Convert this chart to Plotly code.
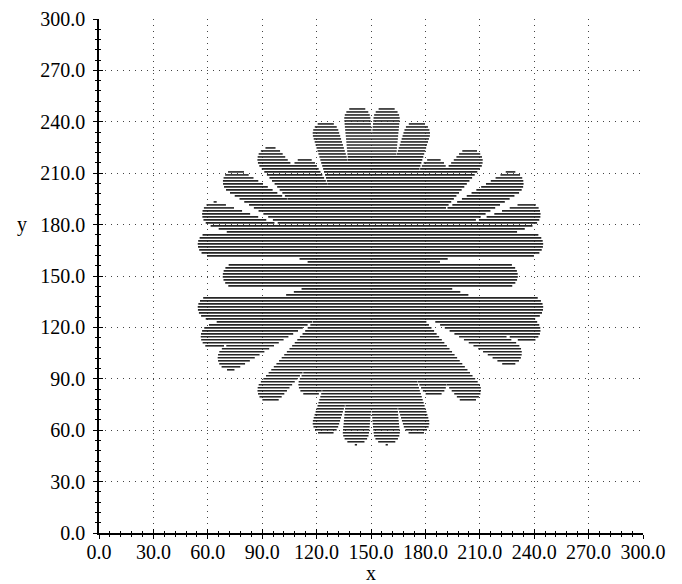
import numpy as np
import plotly.graph_objects as go

# ---- data: petals (bars): the two rounded tips of each bar and its width
bar_x1 = [54.4, 54.4, 68.2, 141.8, 159.3, 123.0, 177.0, 113.6, 188.0, 90.0, 208.0, 66.6, 69.5, 56.6, 57.3]
bar_y1 = [168.5, 131.5, 150.3, 249.0, 249.0, 57.4, 57.4, 80.6, 80.6, 77.8, 77.8, 98.2, 209.0, 112.0, 188.7]
bar_x2 = [245.0, 245.0, 231.0, 159.3, 141.0, 177.4, 123.0, 188.0, 110.0, 209.0, 90.0, 233.0, 232.0, 243.0, 243.0]
bar_y2 = [168.5, 131.5, 150.3, 51.5, 51.5, 240.0, 240.0, 218.0, 218.0, 222.6, 223.7, 208.0, 101.0, 188.7, 115.8]
bar_w = [14.0, 14.0, 15.0, 14.5, 14.5, 14.5, 14.5, 14.0, 14.0, 14.5, 14.5, 14.5, 14.5, 14.5, 14.5]

x_ticks = [0, 30, 60, 90, 120, 150, 180, 210, 240, 270, 300]
y_ticks = [0, 30, 60, 90, 120, 150, 180, 210, 240, 270, 300]

hatch_step = 1.75  # distance between hatch lines (data units)

# ---- build horizontal hatch segments covering the union of bars
xs = np.arange(40.0, 260.0, 0.05)
ys = np.arange(48.0, 252.0, hatch_step)
segx, segy = [], []
for yv in ys:
    mask = np.zeros_like(xs, dtype=bool)
    for x1, y1, x2, y2, w in zip(bar_x1, bar_y1, bar_x2, bar_y2, bar_w):
        hw = w / 2.0
        d = np.array([x2 - x1, y2 - y1])
        L = np.hypot(*d)
        u = d / L
        ax, ay = x1 + u[0] * hw, y1 + u[1] * hw
        bx, by = x2 - u[0] * hw, y2 - u[1] * hw
        vx, vy = bx - ax, by - ay
        vv = vx * vx + vy * vy
        t = ((xs - ax) * vx + (yv - ay) * vy) / vv
        t = np.clip(t, 0, 1)
        px = ax + t * vx
        py = ay + t * vy
        dist = np.hypot(xs - px, yv - py)
        mask |= dist <= hw
    if not mask.any():
        continue
    m = np.concatenate([[False], mask, [False]]).astype(int)
    dm = np.diff(m)
    starts = np.where(dm == 1)[0]
    ends = np.where(dm == -1)[0] - 1
    for s, e in zip(starts, ends):
        segx += [xs[s], xs[e], None]
        segy += [yv, yv, None]

fig = go.Figure()
fig.add_trace(go.Scatter(x=segx, y=segy, mode="lines",
                         line=dict(color="#262626", width=1.6),
                         hoverinfo="skip", showlegend=False))
# helper trace for the second (inside-tick) axes
fig.add_trace(go.Scatter(x=[0, 300], y=[0, 300], xaxis="x2", yaxis="y2",
                         mode="markers", marker=dict(opacity=0),
                         hoverinfo="skip", showlegend=False))

font = dict(family="Liberation Serif, Times New Roman, serif", size=20, color="black")
grid = dict(showgrid=True, gridcolor="#444", gridwidth=1, griddash="1px,5px")

fig.update_layout(
    width=674, height=576,
    margin=dict(l=91, r=39, t=11, b=51, autoexpand=False),
    paper_bgcolor="white", plot_bgcolor="white",
    font=font, showlegend=False,
    xaxis=dict(range=[0, 300], tickmode="array", tickvals=x_ticks,
               ticktext=[f"{v:.1f}" for v in x_ticks],
               ticks="outside", ticklen=4, tickwidth=1, tickcolor="black",
               showline=True, linecolor="black", linewidth=1.5, zeroline=False,
               minor=dict(dtick=6, tick0=0, ticks="outside", ticklen=2, tickwidth=1,
                          tickcolor="black", showgrid=False),
               tickfont=font, ticklabelstandoff=-4, automargin=False, **grid),
    yaxis=dict(range=[0, 300], tickmode="array", tickvals=y_ticks,
               ticktext=[f"{v:.1f}" for v in y_ticks],
               ticks="outside", ticklen=4, tickwidth=1, tickcolor="black",
               showline=True, linecolor="black", linewidth=1.5, zeroline=False,
               minor=dict(dtick=6, tick0=0, ticks="outside", ticklen=2, tickwidth=1,
                          tickcolor="black", showgrid=False),
               tickfont=font, ticklabelstandoff=4, automargin=False, **grid),
    xaxis2=dict(range=[0, 300], overlaying="x", anchor="y2", side="bottom",
                tickmode="array", tickvals=x_ticks, ticks="inside", ticklen=4,
                tickwidth=1, tickcolor="black", showticklabels=False, showgrid=False,
                showline=False, zeroline=False,
                minor=dict(dtick=6, tick0=0, ticks="inside", ticklen=2, tickwidth=1,
                           tickcolor="black", showgrid=False)),
    yaxis2=dict(range=[0, 300], overlaying="y", anchor="x2", side="left",
                tickmode="array", tickvals=y_ticks, ticks="inside", ticklen=4,
                tickwidth=1, tickcolor="black", showticklabels=False, showgrid=False,
                showline=False, zeroline=False,
                minor=dict(dtick=6, tick0=0, ticks="inside", ticklen=2, tickwidth=1,
                           tickcolor="black", showgrid=False)),
)

fig.add_annotation(text="x", x=150, y=0, xref="x", yref="y", yshift=-40,
                   showarrow=False, font=font)
fig.add_annotation(text="y", x=0, y=180, xref="x", yref="y", xshift=-77, yshift=0,
                   showarrow=False, font=font)

fig.write_html("out.html")
